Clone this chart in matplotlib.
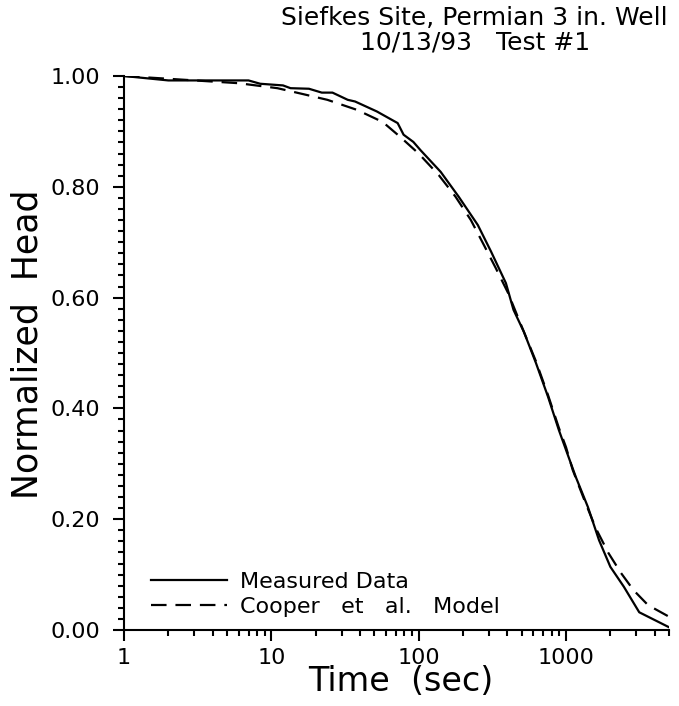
import matplotlib
matplotlib.use("Agg")
import matplotlib.pyplot as plt
from matplotlib.ticker import FixedLocator, LogLocator, MultipleLocator, FuncFormatter

# slug test, Siefkes site, 3 in. well in the Permian
measured_t = [1, 2, 7, 8.4, 12, 13.5, 18, 22, 26, 33, 37, 52, 72, 79, 92, 103,
              141, 187, 252, 310, 391, 440, 518, 625, 755, 894, 1000, 1166,
              1408, 1676, 2000, 2470, 3140, 5000]
measured_h = [1.0, 0.992, 0.992, 0.986, 0.983, 0.978, 0.977, 0.970, 0.970,
              0.957, 0.954, 0.936, 0.915, 0.894, 0.881, 0.866, 0.827, 0.782,
              0.731, 0.683, 0.626, 0.578, 0.538, 0.482, 0.421, 0.361, 0.325,
              0.276, 0.222, 0.162, 0.114, 0.078, 0.032, 0.005]

model_t = [1, 2, 6, 11, 16, 24, 38, 57, 75, 100, 137, 178, 226, 277, 334, 405,
           500, 625, 755, 894, 1000, 1110, 1330, 1590, 1940, 2360, 2870, 3600,
           5000]
model_h = [1.0, 0.995, 0.987, 0.978, 0.968, 0.957, 0.939, 0.917, 0.89, 0.86,
           0.821, 0.782, 0.740, 0.695, 0.653, 0.608, 0.548, 0.485, 0.424,
           0.365, 0.330, 0.289, 0.235, 0.184, 0.139, 0.103, 0.072, 0.045,
           0.024]

x_major = [1, 10, 100, 1000]

plt.rcParams["font.family"] = ["DejaVu Sans"]

fig = plt.figure(figsize=(6.79, 7.06), dpi=100)
ax = fig.add_axes([124 / 679, 1 - 630 / 706, 545 / 679, 554 / 706])

ax.plot(measured_t, measured_h, color="black", lw=1.6, label="Measured Data")
ax.plot(model_t, model_h, color="black", lw=1.6, dashes=(7, 4),
        label="Cooper   et   al.   Model")

ax.set_xscale("log")
ax.set_xlim(1, 5000)
ax.set_ylim(0, 1)

# axes: only left and bottom lines
for side in ("top", "right"):
    ax.spines[side].set_visible(False)
for side in ("left", "bottom"):
    ax.spines[side].set_linewidth(1.5)

ax.xaxis.set_major_locator(FixedLocator(x_major))
ax.xaxis.set_major_formatter(FuncFormatter(lambda v, p: f"{v:.0f}"))
ax.xaxis.set_minor_locator(LogLocator(base=10, subs=range(2, 10), numticks=20))
ax.yaxis.set_major_locator(MultipleLocator(0.2))
ax.yaxis.set_minor_locator(MultipleLocator(0.02))
ax.yaxis.set_major_formatter(FuncFormatter(lambda v, p: f"{v:.2f}"))

ax.tick_params(which="major", direction="out", length=8, width=1.5,
               labelsize=16, pad=5)
ax.tick_params(which="minor", direction="out", length=4.5, width=1.5)
ax.tick_params(axis="y", which="major", pad=9)

ax.set_xlabel("Time  (sec)", fontsize=24)
ax.xaxis.set_label_coords(0.508, -0.063)
ax.set_ylabel("Normalized  Head", fontsize=25)
ax.yaxis.set_label_coords(-0.145, 0.515)

ax.legend(loc="lower left", bbox_to_anchor=(0.05, 0.024), frameon=False,
          fontsize=16, handlelength=3.4, handletextpad=0.6, labelspacing=0.2,
          borderpad=0, borderaxespad=0)

fig.text(0.698, 0.975, "Siefkes Site, Permian 3 in. Well", ha="center",
         va="center", fontsize=18)
fig.text(0.700, 0.94, "10/13/93   Test #1", ha="center", va="center",
         fontsize=18)

fig.savefig("out.png", dpi=100)
